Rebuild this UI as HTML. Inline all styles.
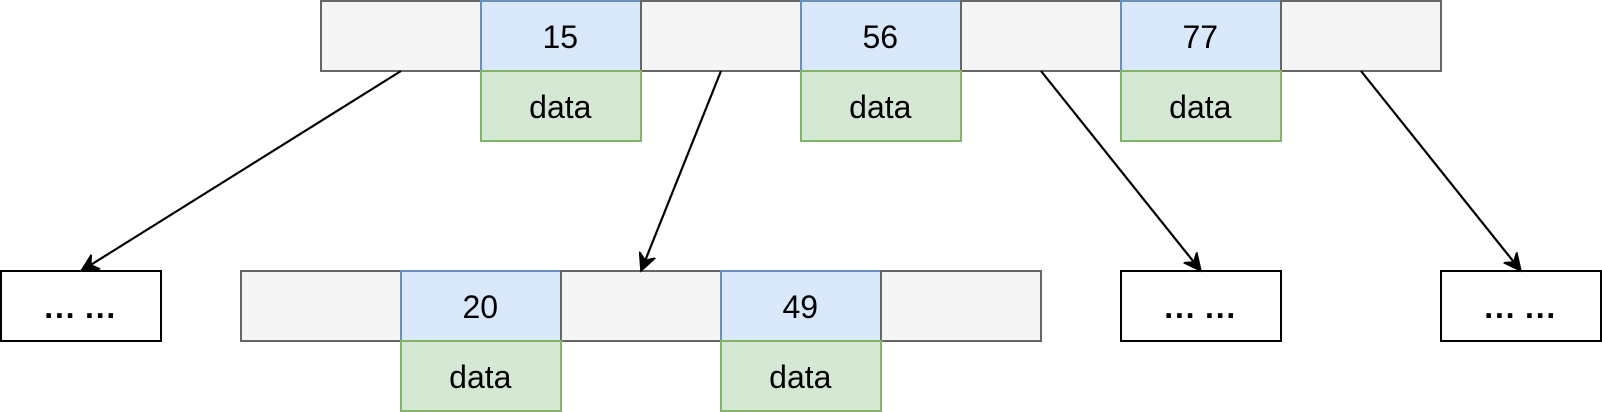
<!DOCTYPE html>
<html lang="en">
<head>
<meta charset="utf-8">
<title>B-tree diagram</title>
<style>
html,body{margin:0;padding:0;background:#fff;width:1602px;height:412px;overflow:hidden}
svg{display:block}
text{font-family:"Liberation Sans",Arial,sans-serif;font-size:32px;fill:#000;text-anchor:middle}
text.dots{font-weight:bold;letter-spacing:1.8px;word-spacing:-2px}
rect{shape-rendering:crispEdges;stroke-width:2}
.g{fill:#f5f5f5;stroke:#666666}
.b{fill:#dae8fc;stroke:#6c8ebf}
.d{fill:#d5e8d4;stroke:#82b366}
.w{fill:#fff;stroke:#000}
.a{stroke:#000;stroke-width:2.2;fill:none;marker-end:url(#arrowhead)}
</style>
</head>
<body>
<svg width="1602" height="412" viewBox="0 0 1602 412">
<defs>
<marker id="arrowhead" markerUnits="userSpaceOnUse" markerWidth="30" markerHeight="30" refX="11.5" refY="15" orient="auto">
<path d="M17.5 15 L0 6.5 L6 15 L0 23.5 Z" fill="#000" stroke="#000" stroke-width="1.5"/>
</marker>
</defs>

<g>
<rect class="g" x="321" y="1" width="160" height="70"/>
<rect class="b" x="481" y="1" width="160" height="70"/>
<rect class="g" x="641" y="1" width="160" height="70"/>
<rect class="b" x="801" y="1" width="160" height="70"/>
<rect class="g" x="961" y="1" width="160" height="70"/>
<rect class="b" x="1121" y="1" width="160" height="70"/>
<rect class="g" x="1281" y="1" width="160" height="70"/>
<rect class="d" x="481" y="71" width="160" height="70"/>
<rect class="d" x="801" y="71" width="160" height="70"/>
<rect class="d" x="1121" y="71" width="160" height="70"/>
<text x="560.3" y="48">15</text>
<text x="880.3" y="48">56</text>
<text x="1200.3" y="48">77</text>
<text x="560.3" y="118">data</text>
<text x="880.3" y="118">data</text>
<text x="1200.3" y="118">data</text>
</g>

<g>
<rect class="g" x="241" y="271" width="160" height="70"/>
<rect class="b" x="401" y="271" width="160" height="70"/>
<rect class="g" x="561" y="271" width="160" height="70"/>
<rect class="b" x="721" y="271" width="160" height="70"/>
<rect class="g" x="881" y="271" width="160" height="70"/>
<rect class="d" x="401" y="341" width="160" height="70"/>
<rect class="d" x="721" y="341" width="160" height="70"/>
<text x="480.3" y="318">20</text>
<text x="800.3" y="318">49</text>
<text x="480.3" y="388">data</text>
<text x="800.3" y="388">data</text>
</g>

<g>
<rect class="w" x="1" y="271" width="160" height="70"/>
<rect class="w" x="1121" y="271" width="160" height="70"/>
<rect class="w" x="1441" y="271" width="160" height="70"/>
<text class="dots" x="80.7" y="318">... ...</text>
<text class="dots" x="1200.7" y="318">... ...</text>
<text class="dots" x="1520.7" y="318">... ...</text>
</g>

<g>
<line class="a" x1="401" y1="71" x2="86.1" y2="267.8"/>
<line class="a" x1="721" y1="71" x2="643.2" y2="265.5"/>
<line class="a" x1="1041" y1="71" x2="1197.25" y2="266.3"/>
<line class="a" x1="1361" y1="71" x2="1517.25" y2="266.3"/>
</g>
</svg>
</body>
</html>
